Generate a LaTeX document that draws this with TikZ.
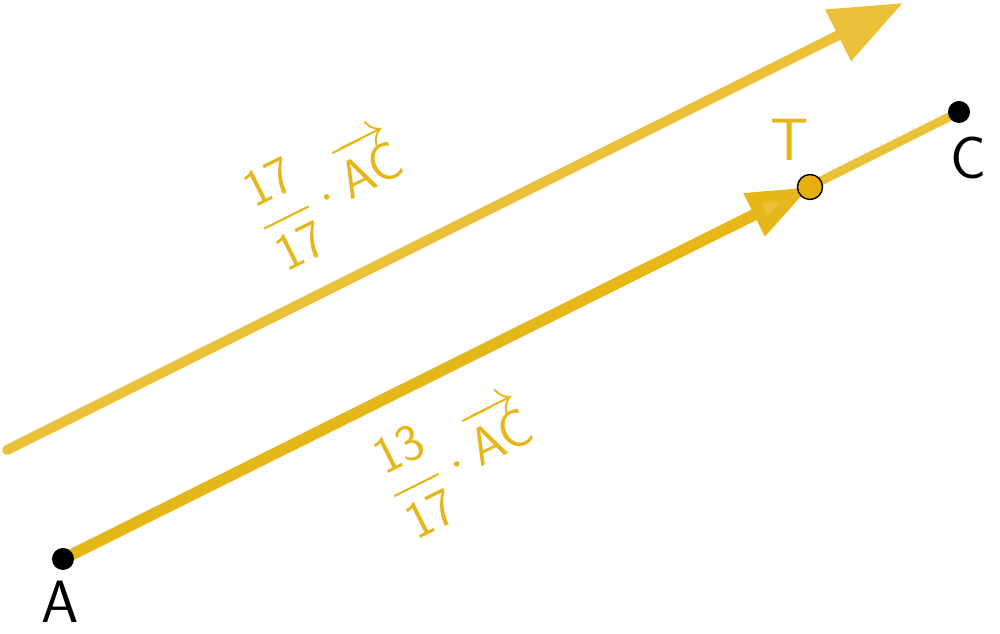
\RequirePackage{fix-cm}
\documentclass[tikz,border=0pt]{standalone}
\usepackage{amsfonts, amsmath, amssymb}
\usepackage{tikz}
\usetikzlibrary{arrows.meta}
\definecolor{vecyellow}{HTML}{EBC13A}
\definecolor{segyellow}{HTML}{E6B719}
\definecolor{ptorange}{HTML}{E6AE0F}
\tikzset{
  lbl/.style={font=\fontsize{34}{40}\selectfont\sffamily},
  veclbl/.style={text=segyellow, font=\fontsize{30}{36}\selectfont, rotate=26.5},
  pt/.style={circle, fill=black, inner sep=0pt, minimum size=0.44cm}
}
\begin{document}
\begin{tikzpicture}
\useasboundingbox (0,0) rectangle (20,12.68);
\coordinate (A) at (1.26,1.50);
\coordinate (C) at (19.18,10.44);
\coordinate (T) at (16.20,8.94);
\coordinate (u0) at (0.14,3.68);
\coordinate (u1) at (18.06,12.62);
\draw[vecyellow, line width=0.2cm, line cap=round, -{Triangle[length=1.45cm, width=1.1cm]}] (u0)--(u1);
\draw[vecyellow, line width=0.18cm] (A)--(C);
\draw[segyellow, line width=0.23cm, -{Triangle[length=1.25cm, width=0.9cm, fill=vecyellow]}] (A)--(T);
\node[pt] (Apt) at (A) {};
\node[pt] (Cpt) at (C) {};
\node[circle, draw=black, line width=0.8pt, fill=ptorange, inner sep=0pt, minimum size=0.5cm] (Tpt) at (T) {};
\node[lbl] (Alab) at (1.2,0.64) {A};
\node[lbl] (Clab) at (19.36,9.52) {C};
\node[lbl, text=segyellow] (Tlab) at (15.8,9.88) {T};
\node[veclbl] (vAC) at (6.6,8.85) {$\dfrac{\mathsf{17}}{\mathsf{17}}\cdot\overrightarrow{\mathsf{AC}}$};
\node[veclbl] (vAT) at (9.2,3.5) {$\dfrac{\mathsf{13}}{\mathsf{17}}\cdot\overrightarrow{\mathsf{AC}}$};
\end{tikzpicture}
\end{document}
